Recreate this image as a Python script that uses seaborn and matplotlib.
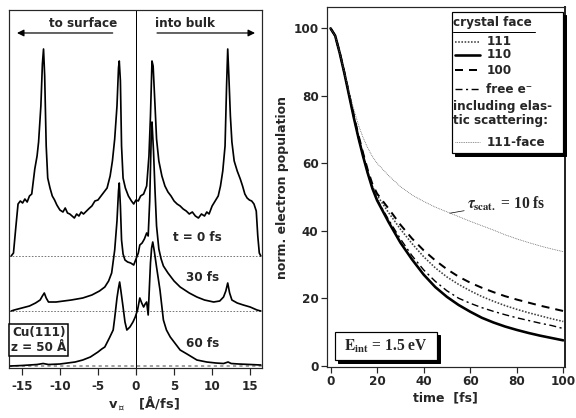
import matplotlib
matplotlib.use("Agg")
import matplotlib.pyplot as plt
import matplotlib.transforms as mtransforms
from matplotlib.lines import Line2D
from matplotlib.patches import Rectangle
import pandas as pd
import seaborn as sns

# ---- left panel: velocity distributions (arb. units) ----
v_t0 = [-16.4, -16.1, -15.8, -15.5, -15.2, -14.9, -14.6, -14.3, -14.0, -13.7, -13.3, -13.0, -12.8,
        -12.5, -12.3, -12.15, -12.0, -11.8, -11.6, -11.3, -11.0, -10.7, -10.4, -10.0, -9.6, -9.3,
        -9.0, -8.7, -8.4, -8.1, -7.8, -7.5, -7.2, -6.9, -6.5, -6.1, -5.8, -5.4, -5.0, -4.6, -4.2,
        -3.8, -3.4, -3.1, -2.8, -2.5, -2.3, -2.2, -2.05, -1.9, -1.7, -1.4, -1.0, -0.6, -0.3, 0.0,
        0.3, 0.6, 1.0, 1.4, 1.7, 1.9, 2.1, 2.25, 2.5, 2.7, 3.0, 3.4, 3.8, 4.2, 4.6, 5.0, 5.4, 5.8,
        6.2, 6.6, 7.0, 7.4, 7.8, 8.2, 8.6, 9.0, 9.3, 9.6, 10.0, 10.4, 10.8, 11.1, 11.4, 11.7, 11.9,
        12.05, 12.2, 12.4, 12.6, 12.9, 13.3, 13.7, 14.0, 14.3, 14.6, 14.9, 15.2, 15.5, 15.8, 16.0,
        16.2, 16.4]
I_t0 = [0, 3, 28, 52, 55, 53, 57, 54, 60, 62, 87, 100, 114,
        150, 192, 207, 180, 110, 78, 68, 60, 56, 51, 46, 44, 48,
        43, 42, 40, 38, 42, 40, 44, 42, 45, 48, 50, 55, 56, 60, 64,
        68, 80, 95, 117, 150, 188, 195, 175, 110, 78, 68, 60, 55, 52, 56,
        55, 60, 62, 70, 100, 140, 195, 190, 150, 117, 95, 80, 70, 64, 60, 55, 52, 50,
        47, 45, 42, 44, 40, 38, 42, 40, 44, 42, 50, 55, 60, 70, 85, 110, 170,
        207, 180, 140, 114, 95, 85, 77, 70, 62, 58, 56, 55, 52, 45, 20,
        3, 0]

v_30 = [-16.4, -16.0, -15.0, -14.0, -13.2, -12.6, -12.3, -12.05, -11.8, -11.5, -10.5, -9.5, -8.5,
        -7.0, -5.8, -4.8, -4.1, -3.6, -3.2, -2.8, -2.5, -2.3, -2.2, -2.05, -1.9, -1.7, -1.45,
        -1.1, -0.7, -0.3, 0.0, 0.3, 0.5, 0.8, 1.1, 1.4, 1.6, 1.8, 2.0, 2.1, 2.3, 2.5, 2.7, 3.0,
        3.3, 3.6, 4.2, 5.0, 5.8, 7.0, 8.0, 9.0, 10.2, 11.0, 11.5, 11.8, 12.05, 12.3, 12.6, 13.3,
        14.1, 15.0, 15.9, 16.4]
I_30 = [0, 1, 3, 5, 8, 11, 15, 18, 13, 9, 9, 10, 11,
        13, 16, 20, 24, 30, 38, 61, 90, 120, 128, 105, 71, 57, 51,
        49, 48, 46, 52, 58, 66, 68, 72, 78, 75, 110, 175, 189, 160, 120, 85, 62,
        52, 45, 38, 30, 24, 18, 14, 11, 9, 10, 14, 20, 28, 18, 11, 8,
        6, 4, 1, 0]

v_60 = [-16.5, -15.0, -13.0, -12.2, -11.5, -10.0, -9.0, -8.0, -7.0, -6.0, -5.0, -4.5, -4.1,
        -3.5, -3.0, -2.8, -2.5, -2.3, -2.15, -2.0, -1.7, -1.45, -1.2, -0.8, -0.4, -0.1, 0.2, 0.5,
        0.75, 1.0, 1.2, 1.4, 1.6, 1.9, 2.05, 2.2, 2.4, 2.7, 3.15, 3.6, 4.0, 4.5, 5.8, 6.7, 8.0,
        9.3, 10.5, 11.5, 12.1, 12.5, 13.5, 15.0, 16.4]
I_60 = [0, 0.5, 1.5, 2.5, 1.5, 2, 3, 4, 6, 9, 14, 17, 19,
        28, 36, 48, 68, 78, 84, 76, 59, 44, 36, 39, 44, 49, 56, 68,
        63, 59, 62, 64, 51, 103, 118, 124, 115, 99, 76, 46, 36, 29, 16, 12, 6,
        4, 3, 2.5, 4, 2.5, 2, 1.5, 1]

offsets = {"60 fs": 0, "30 fs": 55, "t = 0 fs": 110}

# ---- right panel: population decay ----
t_fs = [0, 2, 4, 6, 8, 10, 12, 14, 16, 18, 20, 25, 30, 35, 40, 45, 50, 55, 60, 65, 70, 75, 80,
        85, 90, 95, 100]
pop_111 = [100, 97.8, 92.6, 86.6, 80.2, 73.8, 67.8, 62.4, 57.4, 53.1, 50.5, 45.3, 40.5, 36.2,
           32.3, 29.0, 26.3, 24.1, 22.2, 20.5, 19.1, 17.8, 16.7, 15.7, 14.8, 13.9, 13.1]
pop_110 = [100, 97.8, 92.5, 86.5, 80.0, 73.5, 67.5, 62.0, 57.0, 52.5, 49.0, 42.5, 36.5, 31.5,
           27.0, 23.3, 20.4, 18.0, 16.0, 14.2, 12.8, 11.6, 10.6, 9.7, 8.9, 8.2, 7.5]
pop_100 = [100, 97.8, 92.7, 86.8, 80.5, 74.2, 68.3, 63.0, 58.0, 53.8, 51.0, 46.5, 41.8, 37.7,
           34.2, 31.2, 28.6, 26.4, 24.6, 23.1, 21.8, 20.6, 19.6, 18.7, 17.8, 17.0, 16.2]
pop_free = [100, 97.8, 92.5, 86.5, 80.0, 73.5, 67.5, 62.0, 57.0, 52.6, 49.3, 43.2, 37.6, 32.6,
            28.4, 25.0, 22.2, 20.0, 18.5, 17.2, 16.1, 15.1, 14.2, 13.4, 12.6, 11.9, 11.0]
pop_scat = [100, 97.8, 92.6, 86.8, 81.0, 76.0, 71.3, 67.6, 64.5, 62.0, 60.0, 56.3, 53.1, 50.6,
            48.7, 47.0, 45.6, 44.2, 42.8, 41.5, 40.2, 38.8, 37.6, 36.5, 35.5, 34.6, 33.8]

sns.set_theme(style="ticks")
plt.rcParams["font.family"] = ["DejaVu Sans"]
plt.rcParams["font.weight"] = "bold"
plt.rcParams["axes.unicode_minus"] = False
plt.rcParams["mathtext.fontset"] = "stix"

fig = plt.figure(figsize=(8, 418 / 72), dpi=72)
ax1 = fig.add_axes([0.0148, 0.1196, 0.440, 0.8565])
ax2 = fig.add_axes([0.567, 0.122, 0.4137, 0.861])

# left panel
spectra = [("t = 0 fs", v_t0, I_t0), ("30 fs", v_30, I_30), ("60 fs", v_60, I_60)]
for name, v, inten in spectra:
    off = offsets[name]
    base_col = "0.55" if off == 0 else "0.35"
    base_lw = 1.6 if off == 0 else 0.8
    ax1.axhline(off, color=base_col, lw=base_lw, ls=(0, (2, 2)), zorder=1)
    df = pd.DataFrame({"v": v, "I": [i + off for i in inten]})
    sns.lineplot(data=df, x="v", y="I", ax=ax1, color="black", lw=1.7, sort=False,
                 estimator=None, zorder=3)
ax1.axvline(0, color="black", lw=1.0, zorder=2)

ax1.text(8.1, 129, "t = 0 fs", ha="center", va="center", fontsize=12, fontweight="bold")
ax1.text(8.8, 89, "30 fs", ha="center", va="center", fontsize=12, fontweight="bold")
ax1.text(8.8, 23, "60 fs", ha="center", va="center", fontsize=12, fontweight="bold")
ax1.text(-12.75, 26, "Cu(111)\nz = 50 Å", ha="center", va="center", fontsize=12,
         fontweight="bold", linespacing=1.15,
         bbox=dict(boxstyle="square,pad=0.15", fc="white", ec="black", lw=1.5))

ax1.annotate("", xy=(-15.9, 333), xytext=(-2.8, 333),
             arrowprops=dict(arrowstyle="-|>", color="black", lw=1.2, mutation_scale=14))
ax1.annotate("", xy=(15.9, 333), xytext=(2.5, 333),
             arrowprops=dict(arrowstyle="-|>", color="black", lw=1.2, mutation_scale=14))
ax1.text(-7.0, 342, "to surface", ha="center", va="center", fontsize=12, fontweight="bold")
ax1.text(6.4, 342, "into bulk", ha="center", va="center", fontsize=12, fontweight="bold")

ax1.set_xlim(-16.75, 16.55)
ax1.set_ylim(-2, 356)
ax1.set_xticks([-15, -10, -5, 0, 5, 10, 15])
ax1.set_yticks([])
ax1.set_xlabel(r"v$_{\perp}$   [Å/fs]", fontsize=13, fontweight="bold", labelpad=1,
               x=0.535, math_fontfamily="dejavusans")
ax1.set_ylabel("")
ax1.tick_params(axis="x", direction="out", length=7, width=1.2, labelsize=12, pad=5)
for sp in ax1.spines.values():
    sp.set_linewidth(1.2)

# right panel
curves = [
    ("111", pop_111, dict(color="0.25", lw=1.6, ls=(0, (1, 1)))),
    ("110", pop_110, dict(color="black", lw=2.6, ls="-")),
    ("100", pop_100, dict(color="black", lw=2.0, ls=(0, (4, 3)))),
    ("free e⁻", pop_free, dict(color="black", lw=1.4, ls=(0, (5, 2.5, 1.5, 2.5)))),
    ("111-face", pop_scat, dict(color="0.35", lw=0.8, ls=(0, (1, 1.2)))),
]
for name, pop, style in curves:
    df = pd.DataFrame({"t": t_fs, "pop": pop})
    sns.lineplot(data=df, x="t", y="pop", ax=ax2, sort=False, estimator=None, **style)

ax2.set_xlim(-1.7, 100.7)
ax2.set_ylim(-0.4, 106.3)
ax2.set_xticks([0, 20, 40, 60, 80, 100])
ax2.set_yticks([0, 20, 40, 60, 80, 100])
ax2.set_xlabel("time  [fs]", fontsize=12.5, fontweight="bold", labelpad=3)
ax2.set_ylabel("norm. electron population", fontsize=12.5, fontweight="bold", labelpad=4)
ax2.tick_params(direction="out", length=6, width=1.2, labelsize=12, pad=2)
for sp in ax2.spines.values():
    sp.set_linewidth(1.2)
ax2.spines["right"].set_linewidth(2.0)

ax2.annotate(r"$\tau_{\mathbf{scat.}}$ = 10 fs", xy=(51.3, 45.2), xytext=(58.5, 48.1),
             va="center", ha="left", fontsize=15.5, fontweight="bold", family="Liberation Serif",
             arrowprops=dict(arrowstyle="-", color="black", lw=0.7, shrinkA=0, shrinkB=0))

# legend box with shadow
shadow = mtransforms.offset_copy(ax2.transAxes, fig=fig, x=3, y=-3, units="dots")
ax2.add_patch(Rectangle((0.526, 0.594), 0.466, 0.392, transform=shadow, fc="black",
                        ec="black", lw=1, clip_on=False, zorder=5))
ax2.add_patch(Rectangle((0.526, 0.594), 0.466, 0.392, transform=ax2.transAxes, fc="white",
                        ec="black", lw=1.2, clip_on=False, zorder=6))
ax2.text(0.531, 0.956, "crystal face", transform=ax2.transAxes, fontsize=12,
         fontweight="bold", va="center", zorder=7)
ax2.add_line(Line2D([0.531, 0.875], [0.932, 0.932], transform=ax2.transAxes, color="black",
                    lw=1.0, zorder=7))
rows = [0.904, 0.867, 0.825, 0.772]
for (name, pop, style), y in zip(curves[:4], rows):
    ax2.add_line(Line2D([0.538, 0.643], [y, y], transform=ax2.transAxes, zorder=7, **style))
    ax2.text(0.671, y, name, transform=ax2.transAxes, fontsize=12, fontweight="bold",
             va="center", zorder=7)
ax2.text(0.531, 0.705, "including elas-\ntic scattering:", transform=ax2.transAxes,
         fontsize=12, fontweight="bold", va="center", linespacing=1.05, zorder=7)
ax2.add_line(Line2D([0.538, 0.643], [0.625, 0.625], transform=ax2.transAxes, zorder=7,
                    **curves[4][2]))
ax2.text(0.671, 0.625, curves[4][0], transform=ax2.transAxes, fontsize=12, fontweight="bold",
         va="center", zorder=7)

# E_int box with shadow
ax2.add_patch(Rectangle((0.035, 0.019), 0.427, 0.079, transform=shadow, fc="black",
                        ec="black", lw=1, clip_on=False, zorder=5))
ax2.add_patch(Rectangle((0.035, 0.019), 0.427, 0.079, transform=ax2.transAxes, fc="white",
                        ec="black", lw=1.2, clip_on=False, zorder=6))
ax2.text(0.248, 0.058, r"$\mathbf{E_{int}}$ = 1.5 eV", transform=ax2.transAxes,
         family="Liberation Serif", fontsize=15.5, fontweight="bold", ha="center", va="center",
         zorder=7)

fig.savefig("out.png", dpi=72)
